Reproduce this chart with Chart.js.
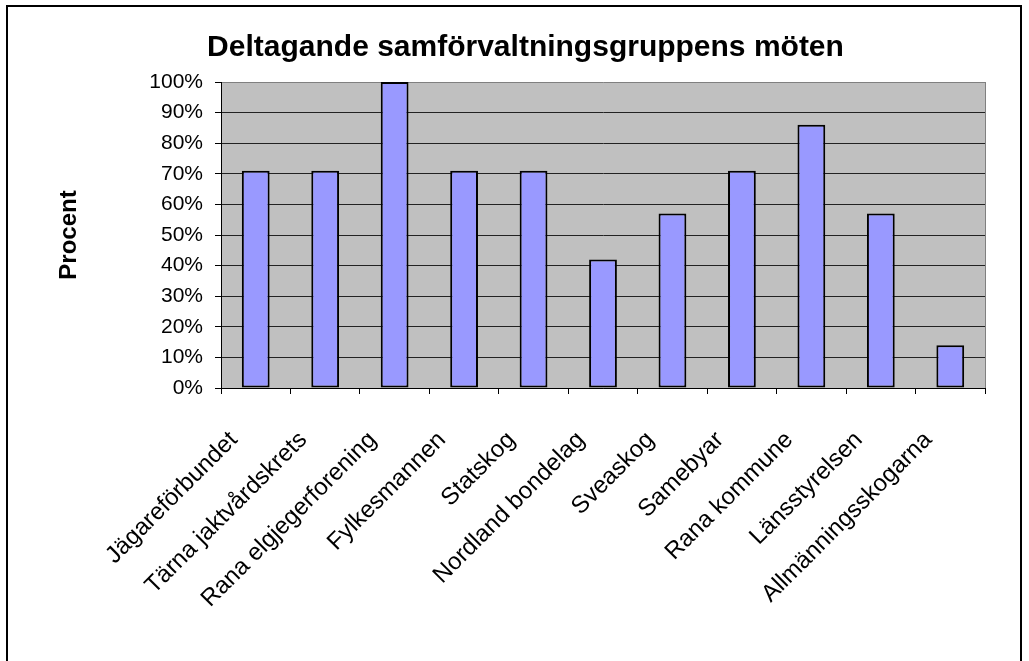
<!DOCTYPE html>
<html>
<head>
<meta charset="utf-8">
<script src="https://cdn.jsdelivr.net/npm/chart.js@4/dist/chart.umd.min.js"></script>
<style>
  html, body { margin: 0; padding: 0; background: #fff; }
  #wrap { width: 1029px; height: 661px; position: relative; }
</style>
</head>
<body>
<div id="wrap"><canvas id="chart"></canvas></div>
<script>
const categories = [
  'Jägareförbundet', 'Tärna jaktvårdskrets', 'Rana elgjegerforening', 'Fylkesmannen',
  'Statskog', 'Nordland bondelag', 'Sveaskog', 'Samebyar', 'Rana kommune',
  'Länsstyrelsen', 'Allmänningsskogarna'
];
const procent = [71, 71, 100, 71, 71, 42, 57, 71, 86, 57, 14];
const yTicks = [0, 10, 20, 30, 40, 50, 60, 70, 80, 90, 100];

const FONT = 'Liberation Sans, Arial, sans-serif';

// gray plot area, white page, outer frame
const frame = {
  id: 'frame',
  beforeDraw(chart) {
    const { ctx, chartArea: a } = chart;
    ctx.save();
    ctx.fillStyle = '#fff';
    ctx.fillRect(0, 0, chart.width, chart.height);
    ctx.fillStyle = '#C0C0C0';
    ctx.fillRect(a.left, a.top, a.right - a.left, a.bottom - a.top);
    ctx.strokeStyle = '#808080';
    ctx.lineWidth = 1;
    ctx.beginPath();
    ctx.moveTo(a.right + 0.5, a.top);
    ctx.lineTo(a.right + 0.5, a.bottom);
    ctx.stroke();
    ctx.restore();
  },
  afterDraw(chart) {
    const ctx = chart.ctx;
    ctx.save();
    ctx.strokeStyle = '#000';
    ctx.lineWidth = 2;
    ctx.strokeRect(7, 6, 1014, 700);
    ctx.restore();
  }
};

new Chart(document.getElementById('chart'), {
  type: 'bar',
  data: {
    labels: categories,
    datasets: [{
      label: 'Procent',
      data: procent,
      backgroundColor: '#9999FF',
      borderColor: '#000',
      borderWidth: 2,
      borderSkipped: false,
      barPercentage: 0.4,
      categoryPercentage: 1.0
    }]
  },
  options: {
    responsive: true,
    maintainAspectRatio: false,
    animation: false,
    layout: { padding: { left: 66, right: 44, top: 8, bottom: 0 } },
    plugins: {
      legend: { display: false },
      tooltip: { enabled: false },
      title: {
        display: true,
        text: 'Deltagande samförvaltningsgruppens möten',
        color: '#000',
        font: { family: FONT, size: 30, weight: 'bold' },
        padding: { top: 22, bottom: 16 }
      }
    },
    scales: {
      x: {
        afterFit(scale) { scale.height = 273; },
        grid: {
          offset: true,
          drawOnChartArea: false,
          drawTicks: true,
          tickLength: 6,
          tickColor: '#000'
        },
        border: { display: true, color: '#000', width: 1 },
        ticks: {
          autoSkip: false,
          minRotation: 45,
          maxRotation: 45,
          padding: 32,
          labelOffset: -22,
          color: '#000',
          font: { family: FONT, size: 24 }
        }
      },
      y: {
        min: 0,
        max: 100,
        afterFit(scale) { scale.width = 155; },
        afterBuildTicks(scale) { scale.ticks = yTicks.map(v => ({ value: v })); },
        grid: {
          color: ctx => (ctx.tick && ctx.tick.value === 100 ? '#808080' : '#222'),
          lineWidth: 1,
          drawTicks: true,
          tickLength: 6,
          tickColor: '#000'
        },
        border: { display: true, color: '#000', width: 1 },
        ticks: {
          padding: 12,
          color: '#000',
          font: { family: FONT, size: 21 },
          callback: v => v + '%'
        },
        title: {
          display: true,
          text: 'Procent',
          color: '#000',
          font: { family: FONT, size: 24, weight: 'bold' },
          padding: { top: -11, bottom: 0 }
        }
      }
    }
  },
  plugins: [frame]
});
</script>
</body>
</html>
